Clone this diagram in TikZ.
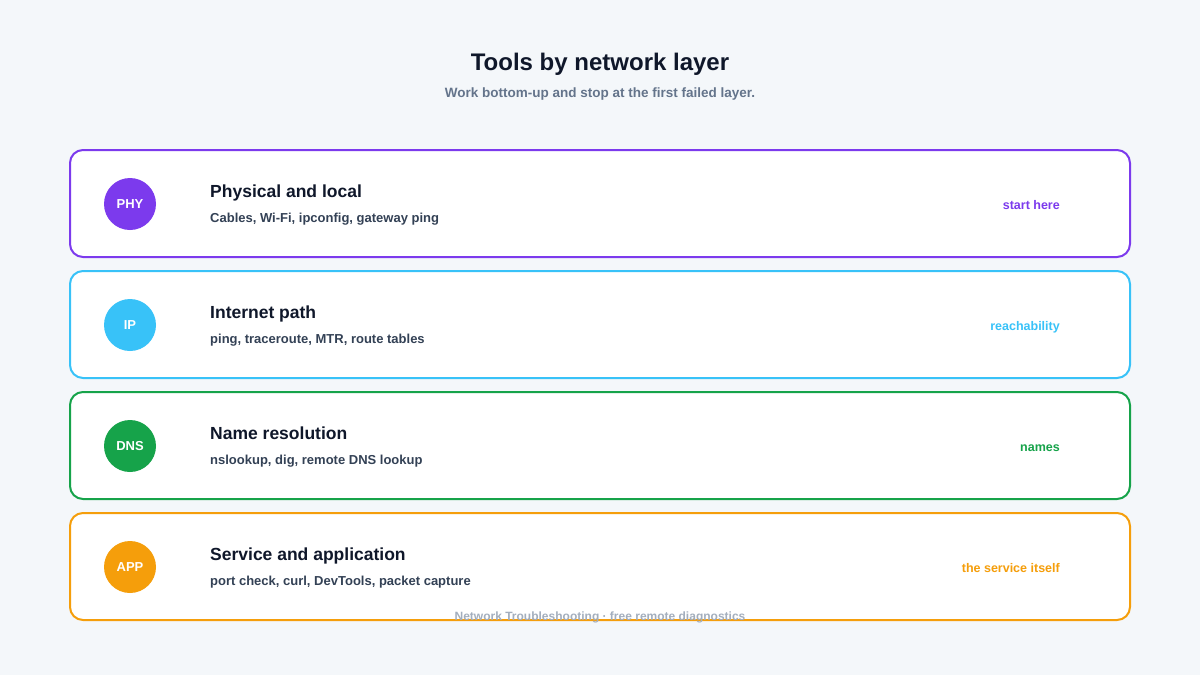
\documentclass[tikz,border=0pt]{standalone}
\usepackage{fontspec}
\setmainfont{Liberation Sans}
\begin{document}
\begin{tikzpicture}[x=1pt,y=-1pt,
  card/.style={draw=#1,line width=2pt,fill=white,rounded corners=13pt},
  badge/.style={circle,fill=#1,minimum size=52pt,inner sep=0pt,text=white,font=\fontsize{13}{15}\selectfont\bfseries},
  head/.style={anchor=base west,inner sep=0pt,text=ink,font=\fontsize{17.5}{21}\selectfont\bfseries},
  sub/.style={anchor=base west,inner sep=0pt,text=ink2,font=\fontsize{13}{15}\selectfont\bfseries},
  tag/.style={anchor=base east,inner sep=0pt,text=#1,font=\fontsize{12.5}{15}\selectfont\bfseries}]
\definecolor{bg}{HTML}{F4F7FA}
\definecolor{ink}{HTML}{0F172A}
\definecolor{ink2}{HTML}{334155}
\definecolor{muted}{HTML}{64748B}
\definecolor{faint}{HTML}{A3AEBD}
\definecolor{cpur}{HTML}{7C3AED}
\definecolor{ccya}{HTML}{38C2F8}
\definecolor{cgrn}{HTML}{16A34A}
\definecolor{cora}{HTML}{F59E0B}
\fill[bg] (0,0) rectangle (1200,675);
\useasboundingbox (0,0) rectangle (1200,675);
\node[text=ink,anchor=base,inner sep=0pt,font=\fontsize{24}{28}\selectfont\bfseries] (title) at (600,70) {Tools by network layer};
\node[text=muted,anchor=base,inner sep=0pt,font=\fontsize{13.5}{16}\selectfont\bfseries] (subtitle) at (600,97.5) {Work bottom-up and stop at the first failed layer.};
\foreach \y/\c/\b/\h/\s/\t/\n in {
  150/cpur/PHY/Physical and local/{Cables, Wi-Fi, ipconfig, gateway ping}/start here/a,
  271/ccya/IP/Internet path/{ping, traceroute, MTR, route tables}/reachability/b,
  392/cgrn/DNS/Name resolution/{nslookup, dig, remote DNS lookup}/names/c,
  513/cora/APP/Service and application/{port check, curl, DevTools, packet capture}/the service itself/d}{
  \draw[card=\c] (70,\y) rectangle (1130,\y+107);
  \node[badge=\c] (badge\n) at (130,\y+54) {\b};
  \node[head] (head\n) at (210,\y+47.5) {\h};
  \node[sub] (sub\n) at (210,\y+72.5) {\s};
  \node[tag=\c] (tag\n) at (1060,\y+59.5) {\t};
}
\node[text=faint,anchor=base,inner sep=0pt,font=\fontsize{12}{14}\selectfont\bfseries] (foot) at (600,620) {Network Troubleshooting · free remote diagnostics};
\end{tikzpicture}
\end{document}
